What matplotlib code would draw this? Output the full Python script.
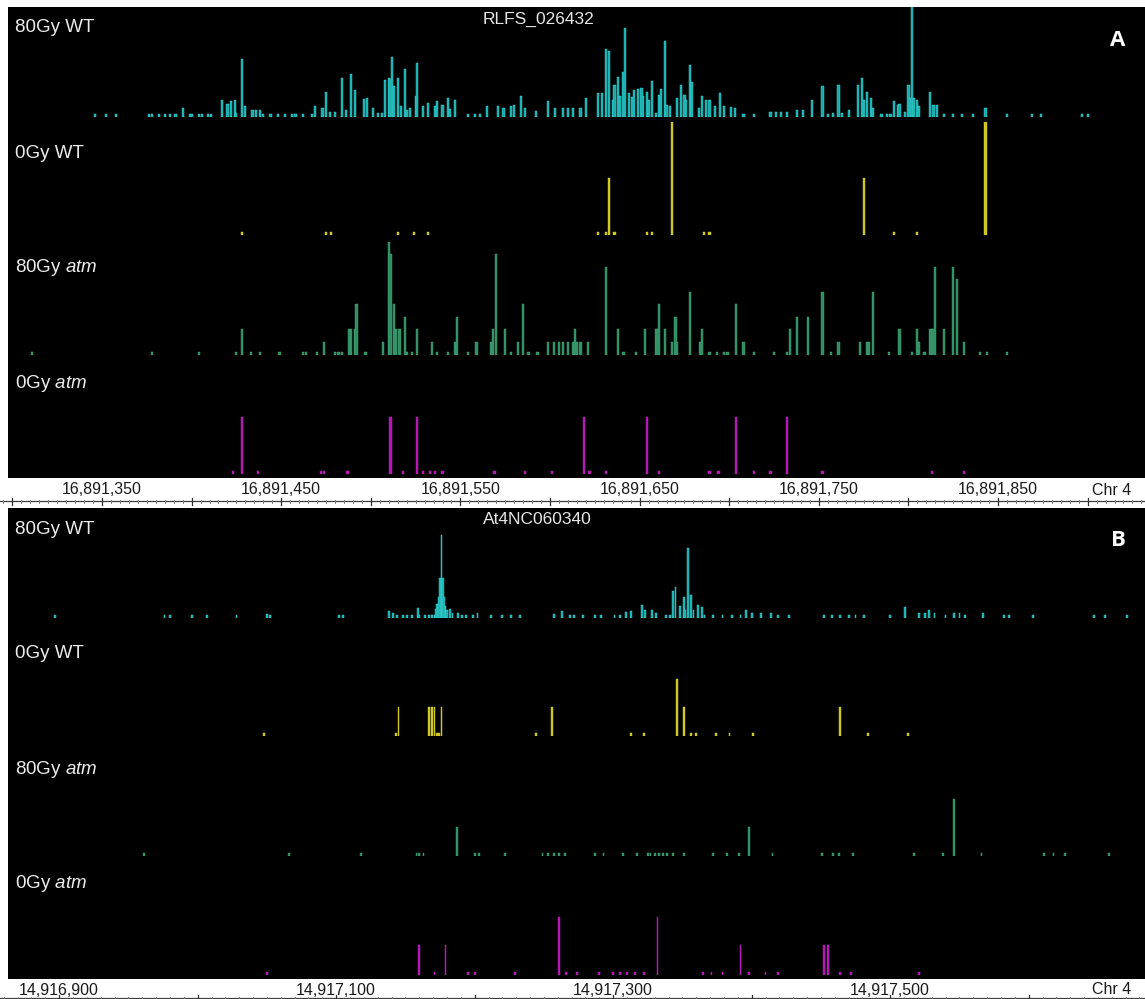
import numpy as np
import matplotlib
matplotlib.use("Agg")
import matplotlib.pyplot as plt

plt.rcParams["font.family"] = ["Liberation Sans", "DejaVu Sans"]
plt.rcParams["mathtext.fontset"] = "custom"
plt.rcParams["mathtext.rm"] = "Liberation Sans"
plt.rcParams["mathtext.it"] = "Liberation Sans:italic"

# ---------------- panel A : RLFS_026432 (positions = bp after 16,891,300) ----------------
a_start = 16891300
a_title = "RLFS_026432"
a_tick_labels = [16891350, 16891450, 16891550, 16891650, 16891750, 16891850]

a_wt80_pos = [46, 52, 58, 76, 78, 82, 85, 88, 91, 95, 99, 100, 104, 106, 109, 111,
              117, 120, 122, 124, 125, 128, 130, 134, 136, 138, 140, 144, 148, 152, 156, 158, 162, 167,
              169, 173, 175, 177, 180, 184, 186, 189, 191, 196, 198, 201, 204, 206,
              208, 210, 211, 212, 213, 215, 217, 219, 220, 222, 225, 226, 229, 232, 236, 237, 240,
              243, 244, 247, 254, 258, 261, 265, 271, 274, 278, 280, 284, 286, 292, 299, 303, 307,
              310, 313, 317, 320, 327, 329, 331, 333, 335, 336, 338, 339, 341, 342, 344, 346, 347,
              349, 351, 352, 354, 355, 357, 359, 361, 362, 364, 365, 367, 371, 373, 375, 376, 378,
              379, 383, 385, 387, 389, 392, 395, 397, 401, 403, 408, 414, 423, 426, 429, 432, 438,
              441, 446, 452, 455, 458, 461, 463, 467, 472, 474, 475, 477, 479, 480, 485, 488, 490,
              492, 494, 495, 498, 500, 501, 502, 503, 505, 506, 512, 514, 516, 520, 525, 530, 536,
              543, 555, 569, 574, 597, 600]
a_wt80_h = [3, 3, 3, 3, 3, 3, 3, 3, 3, 9, 3, 3, 3, 3, 3, 3,
            17, 13, 16, 17, 4, 58, 11, 7, 7, 7, 3, 3, 3, 3, 3, 3, 3, 3,
            11, 9, 25, 5, 5, 39, 7, 43, 27, 18, 19, 9, 4, 4,
            37, 39, 38, 60, 31, 39, 11, 48, 7, 9, 21, 54, 11, 14, 11, 16, 12,
            19, 8, 17, 3, 3, 3, 11, 11, 9, 11, 12, 21, 9, 6, 16, 9, 9,
            9, 9, 9, 19, 24, 24, 68, 66, 17, 32, 40, 21, 45, 89, 24, 20, 27,
            28, 29, 21, 25, 17, 36, 4, 22, 28, 76, 12, 11, 19, 32, 22, 17, 52,
            35, 9, 21, 17, 17, 11, 24, 11, 10, 9, 3, 3, 5, 5, 5, 5, 7,
            7, 17, 31, 3, 4, 32, 4, 7, 32, 39, 17, 25, 19, 9, 3, 3, 3,
            16, 12, 13, 5, 32, 19, 120, 19, 17, 11, 25, 12, 12, 3, 3, 3, 3,
            9, 3, 3, 3, 3, 3]

a_wt0_pos = [128, 175, 178, 215, 224, 232, 327, 331, 333, 336, 354, 357, 368, 386, 389,
             475, 492, 505, 543]
a_wt0_h = [3, 3, 3, 3, 3, 3, 3, 3, 57, 3, 3, 3, 113, 3, 3,
           57, 3, 3, 113]

a_atm80_pos = [11, 78, 104, 125, 128, 133, 138, 149, 162, 164, 170, 174, 180, 182, 184, 188,
               189, 191, 192, 197, 207, 210, 211, 213, 214, 216, 219, 220, 223, 226, 234, 237,
               243, 247, 248, 254, 259, 267, 268, 270, 275, 278, 282, 285, 288, 293, 299, 302,
               305, 307, 310, 313, 314, 315, 317, 321, 331, 338, 341, 348, 353, 359, 360, 361,
               364, 368, 370, 371, 378, 384, 385, 389, 393, 397, 399, 404, 408, 414, 425, 432,
               434, 438, 444, 452, 457, 461, 473, 477, 478, 480, 489, 495, 502, 505, 506, 509,
               512, 513, 514, 515, 520, 525, 527, 531, 540, 544, 555]
a_atm80_h = [3, 3, 3, 3, 26, 3, 3, 3, 3, 3, 3, 13, 3, 3, 3, 26,
             26, 26, 51, 3, 13, 113, 101, 51, 26, 26, 38, 3, 3, 26, 13, 3,
             3, 13, 38, 3, 13, 13, 26, 101, 26, 3, 13, 51, 3, 3, 13, 13,
             13, 13, 13, 13, 26, 13, 13, 13, 88, 26, 3, 3, 26, 26, 26, 51,
             26, 13, 38, 13, 63, 13, 26, 3, 3, 3, 3, 51, 13, 3, 3, 3,
             26, 38, 38, 63, 3, 13, 13, 13, 13, 63, 3, 26, 3, 26, 13, 3,
             26, 26, 26, 88, 26, 88, 76, 13, 3, 3, 3]

a_atm0_pos = [123, 128, 137, 172, 174, 187, 211, 218, 226, 229, 233, 236, 240, 269, 286, 301,
              319, 322, 331, 354, 361, 389, 394, 404, 414, 423, 432, 452, 513, 531]
a_atm0_h = [3, 57, 3, 3, 3, 3, 57, 3, 57, 3, 3, 3, 3, 3, 3, 3,
            57, 3, 3, 57, 3, 3, 3, 57, 3, 3, 57, 3, 3, 3]

# ---------------- panel B : At4NC060340 (positions = bp after 14,916,858) ----------------
b_start = 14916858
b_title = "At4NC060340"
b_tick_labels = [14916900, 14917100, 14917300, 14917500]

b_wt80_pos = [39, 118, 122, 138, 149, 170, 192, 194, 244, 247, 280, 283, 286, 290, 293, 297,
              301, 302, 306, 309, 311, 313, 314, 315, 316, 317, 318, 319, 320, 321, 322, 324,
              326, 330, 333, 336, 341, 344, 354, 362, 368, 375, 399, 405, 411, 414, 420, 429,
              433, 443, 447, 451, 455, 463, 465, 470, 473, 480, 483, 485, 487, 490, 493, 494,
              496, 498, 500, 503, 506, 508, 514, 521, 528, 534, 538, 542, 549, 556, 561, 569,
              594, 600, 606, 612, 617, 623, 642, 653, 663, 667, 670, 674, 682, 688, 692, 696,
              709, 724, 728, 745, 789, 797, 813]
b_wt80_h = [3, 3, 3, 3, 3, 3, 4, 3, 3, 3, 7, 5, 3, 3, 3, 3,
            10, 3, 3, 3, 3, 3, 9, 14, 21, 40, 83, 40, 21, 12, 8, 9,
            5, 5, 3, 3, 3, 5, 3, 3, 3, 3, 4, 7, 3, 3, 3, 3,
            3, 3, 3, 6, 7, 13, 8, 8, 5, 3, 3, 27, 31, 12, 21, 8,
            70, 23, 8, 13, 11, 3, 3, 3, 3, 3, 8, 5, 5, 5, 3, 3,
            3, 3, 3, 3, 3, 3, 3, 11, 5, 5, 8, 5, 3, 5, 5, 3,
            5, 3, 3, 3, 3, 3, 3]

b_wt0_pos = [190, 285, 287, 309, 311, 313, 315, 316, 318, 386, 398, 455, 464, 488, 493, 498,
             502, 516, 526, 543, 606, 626, 655]
b_wt0_h = [3, 3, 29, 29, 29, 29, 3, 3, 29, 3, 29, 3, 3, 57, 29, 3,
           3, 3, 3, 3, 29, 3, 3]

b_atm80_pos = [103, 208, 260, 300, 302, 305, 329, 342, 345, 364, 391, 395, 399, 403, 407, 429,
               435, 449, 459, 467, 469, 472, 475, 478, 481, 485, 493, 514, 524, 533, 540, 557,
               593, 601, 605, 615, 659, 680, 688, 708, 753, 760, 768, 800]
b_atm80_h = [3, 3, 3, 3, 3, 3, 29, 3, 3, 3, 3, 3, 3, 3, 3, 3,
             3, 3, 3, 3, 3, 3, 3, 3, 3, 3, 3, 3, 3, 3, 29, 3,
             3, 3, 3, 3, 3, 3, 57, 3, 3, 3, 3, 3]

b_atm0_pos = [192, 302, 313, 321, 337, 342, 371, 403, 408, 416, 432, 442, 447, 452, 458, 464,
              474, 507, 513, 521, 534, 540, 552, 561, 594, 597, 606, 614, 663]
b_atm0_h = [3, 30, 3, 30, 3, 3, 3, 58, 3, 3, 3, 3, 3, 3, 3, 3,
            58, 3, 3, 3, 30, 3, 3, 3, 30, 30, 3, 3, 3]

track_names = ["80Gy WT", "0Gy WT", r"80Gy $\mathit{atm}$", r"0Gy $\mathit{atm}$"]
track_fill = ["#18a8a8", "#cfc724", "#2f8e61", "#b515b5"]
track_edge = ["#46e3e3", "#d8d22c", "#4aa87b", "#c21fc2"]

W, H = 1145, 999
fig = plt.figure(figsize=(W / 100, H / 100), dpi=100)
fig.patch.set_facecolor("white")


def px_axes(x0, y0, x1, y1):
    return fig.add_axes([x0 / W, 1 - y1 / H, (x1 - x0) / W, (y1 - y0) / H])


def draw_panel(top, start, off_lo, off_hi, px_per_bp, tracks, title, title_x, letter,
               tick_labels, major, minor, strip_h, bar_w):
    xlim = (start + off_lo, start + off_hi)
    bottom = top + 471
    bg = px_axes(8, top, W, bottom)
    bg.set_facecolor("black")
    bg.set_xticks([])
    bg.set_yticks([])
    for s in bg.spines.values():
        s.set_visible(False)

    bases = [110, 228, 348, 467]
    label_y = [21, 146, 261, 376]
    for i, (pos, h) in enumerate(tracks):
        base = top + bases[i]
        ax_top = max(top, base - 113)
        ax = px_axes(8, ax_top, W, base)
        ax.set_xlim(xlim)
        ax.set_ylim(0, base - ax_top)
        ax.axis("off")
        ax.bar(start + np.array(pos), h, width=bar_w, color=track_fill[i],
               edgecolor=track_edge[i], linewidth=0.3)
        fig.text(15 / W, 1 - (top + label_y[i]) / H, track_names[i], color="#ececec",
                 fontsize=13.5, va="center", ha="left")

    fig.text(title_x / W, 1 - (top + 12) / H, title, color="#e6e6e6", fontsize=12.5,
             ha="center", va="center")
    fig.text(1118 / W, 1 - (top + 33) / H, letter, color="white", fontsize=16,
             fontweight="bold", family="Open Sans", ha="center", va="center")

    # ruler strip under the tracks
    g0 = start + off_lo - 8 / px_per_bp
    g1 = start + off_hi
    rl = px_axes(0, bottom, W, bottom + strip_h)
    rl.set_xlim(g0, g1)
    rl.set_ylim(strip_h, 0)
    rl.axis("off")
    line_y = strip_h - 7 if strip_h > 25 else strip_h - 2
    rl.axhline(line_y, color="#404040", linewidth=0.9)
    first = int(np.ceil(g0 / minor) * minor)
    for g in range(first, int(g1) + 1, minor):
        if g % major == 0:
            rl.plot([g, g], [line_y - 3.5, line_y + 3.5], color="#303030", linewidth=0.9)
        else:
            rl.plot([g, g], [line_y - 1.5, line_y + 1.5], color="#707070", linewidth=0.6)
    for g in tick_labels:
        rl.text(g, 12 if strip_h > 25 else 11, f"{g:,}", fontsize=11.5, color="#1a1a1a",
                ha="center", va="center")
    fig.text(1112 / W, 1 - (bottom + (12 if strip_h > 25 else 11)) / H, "Chr 4",
             fontsize=11.5, color="#1a1a1a", ha="center", va="center")


draw_panel(7, a_start, -2.46, 632.0, 1.792,
           [(a_wt80_pos, a_wt80_h), (a_wt0_pos, a_wt0_h),
            (a_atm80_pos, a_atm80_h), (a_atm0_pos, a_atm0_h)],
           a_title, 538, "A", a_tick_labels, 50, 5, 30, 1.2)

draw_panel(508, b_start, 5.05, 826.0, 1.385,
           [(b_wt80_pos, b_wt80_h), (b_wt0_pos, b_wt0_h),
            (b_atm80_pos, b_atm80_h), (b_atm0_pos, b_atm0_h)],
           b_title, 537, "B", b_tick_labels, 100, 10, 21, 1.3)

fig.savefig("out.png", dpi=100, facecolor="white")
